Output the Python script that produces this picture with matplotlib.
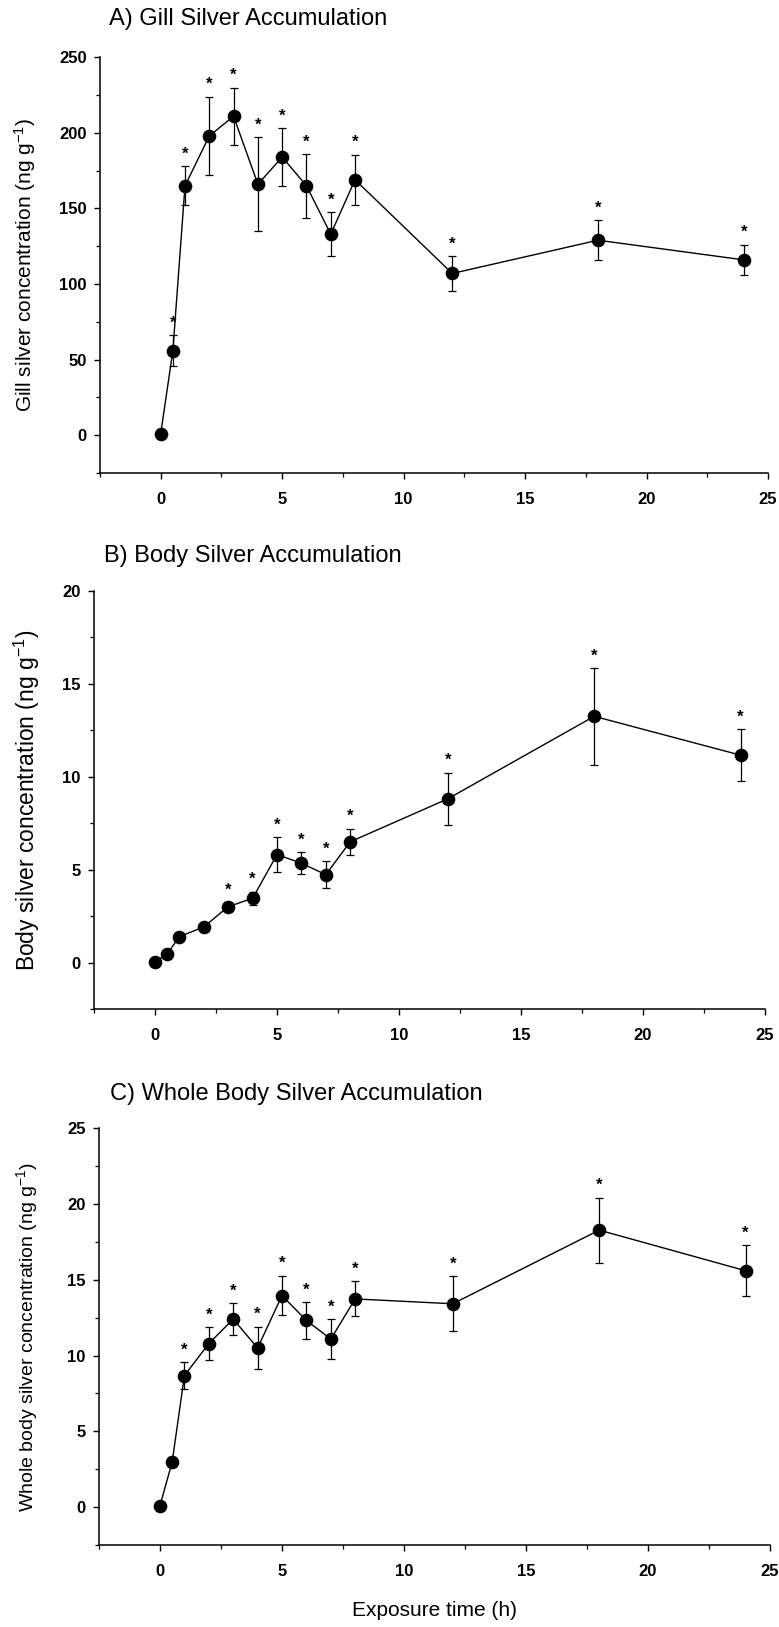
import matplotlib
matplotlib.use("Agg")
import matplotlib.pyplot as plt
from matplotlib.ticker import MultipleLocator

plt.rcParams['font.family'] = ['Liberation Sans', 'DejaVu Sans']
plt.rcParams['mathtext.fontset'] = 'custom'
plt.rcParams['mathtext.rm'] = 'Liberation Sans'
plt.rcParams['mathtext.it'] = 'Liberation Sans:italic'
plt.rcParams['mathtext.bf'] = 'Liberation Sans:bold'

# Sampling times (h)
time_h = [0, 0.5, 1, 2, 3, 4, 5, 6, 7, 8, 12, 18, 24]

# A) gill silver (ng/g): mean, SEM, significance flags
gill_mean = [1, 56, 165, 198, 211, 166, 184, 165, 133, 169, 107, 129, 116]
gill_sem = [0, 10, 13, 26, 19, 31, 19, 21, 14.5, 16.5, 11.5, 13.3, 10]
gill_sig = [False, True, True, True, True, True, True, True, True, True, True, True, True]

# B) body silver (ng/g)
body_mean = [0.05, 0.48, 1.41, 1.93, 3.02, 3.47, 5.82, 5.36, 4.74, 6.51, 8.82, 13.26, 11.17]
body_sem = [0.05, 0.1, 0.15, 0.15, 0.25, 0.36, 0.95, 0.6, 0.73, 0.7, 1.4, 2.6, 1.4]
body_sig = [False, False, False, False, True, True, True, True, True, True, True, True, True]

# C) whole body silver (ng/g)
whole_mean = [0.1, 2.99, 8.68, 10.79, 12.41, 10.5, 13.96, 12.32, 11.09, 13.74, 13.42, 18.28, 15.6]
whole_sem = [0.1, 0.35, 0.9, 1.1, 1.05, 1.4, 1.3, 1.2, 1.3, 1.15, 1.8, 2.15, 1.7]
whole_sig = [False, False, True, True, True, True, True, True, True, True, True, True, True]

W, H = 779, 1627
fig = plt.figure(figsize=(W / 100, H / 100), dpi=100)


def px_axes(left, right, top, bottom):
    return [left / W, 1 - bottom / H, (right - left) / W, (bottom - top) / H]


panels = [
    dict(box=(100, 768, 57.3, 473), mean=gill_mean, sem=gill_sem, sig=gill_sig,
         ylim=(-25, 250), major=50, minor=25,
         title='A) Gill Silver Accumulation', title_xy=(109, 19),
         ylabel=r'Gill silver concentration (ng g$^{\mathregular{-1}}$)',
         ylfs=15, ylx=25),
    dict(box=(94, 765, 591, 1009.3), mean=body_mean, sem=body_sem, sig=body_sig,
         ylim=(-2.5, 20), major=5, minor=2.5,
         title='B) Body Silver Accumulation', title_xy=(104, 556),
         ylabel=r'Body silver concentration (ng g$^{\mathregular{-1}}$)',
         ylfs=16.5, ylx=27),
    dict(box=(99, 770, 1128.3, 1545), mean=whole_mean, sem=whole_sem, sig=whole_sig,
         ylim=(-2.5, 25), major=5, minor=2.5,
         title='C) Whole Body Silver Accumulation', title_xy=(110, 1094),
         ylabel=r'Whole body silver concentration (ng g$^{\mathregular{-1}}$)',
         ylfs=14, ylx=27),
]

for p in panels:
    left, right, top, bottom = p['box']
    ax = fig.add_axes(px_axes(left, right, top, bottom))
    ax.errorbar(time_h, p['mean'], yerr=p['sem'], fmt='-o', color='black',
                ecolor='black', elinewidth=0.9, capsize=3, capthick=0.9,
                linewidth=1.0, markersize=8.8, zorder=3)
    tops = [m + s for m, s in zip(p['mean'], p['sem'])]
    for t, top_val, flag in zip(time_h, tops, p['sig']):
        if flag:
            ax.annotate('*', xy=(t, top_val), xytext=(0, 5.5), textcoords='offset points',
                        ha='center', va='baseline', fontsize=12, fontweight='bold')
    ax.set_xlim(-2.5, 25)
    ax.set_ylim(*p['ylim'])
    ax.xaxis.set_major_locator(MultipleLocator(5))
    ax.xaxis.set_minor_locator(MultipleLocator(2.5))
    ax.yaxis.set_major_locator(MultipleLocator(p['major']))
    ax.yaxis.set_minor_locator(MultipleLocator(p['minor']))
    for side in ('top', 'right'):
        ax.spines[side].set_visible(False)
    for side in ('left', 'bottom'):
        ax.spines[side].set_linewidth(1.1)
    ax.tick_params(which='major', direction='out', length=4.5, width=1.0,
                   labelsize=12, pad=5)
    ax.tick_params(axis='x', which='major', pad=9)
    ax.tick_params(which='minor', direction='out', length=3, width=0.9)
    for lab in ax.get_xticklabels() + ax.get_yticklabels():
        lab.set_fontweight('bold')
    fig.text(p['ylx'] / W, 1 - (top + bottom) / 2 / H, p['ylabel'], rotation=90,
             ha='center', va='center', fontsize=p['ylfs'])
    fig.text(p['title_xy'][0] / W, 1 - p['title_xy'][1] / H, p['title'],
             ha='left', va='center', fontsize=17)

fig.text(434 / W, 1 - 1610 / H, 'Exposure time (h)', ha='center', va='center',
         fontsize=15)

fig.savefig('out.png', dpi=100)
